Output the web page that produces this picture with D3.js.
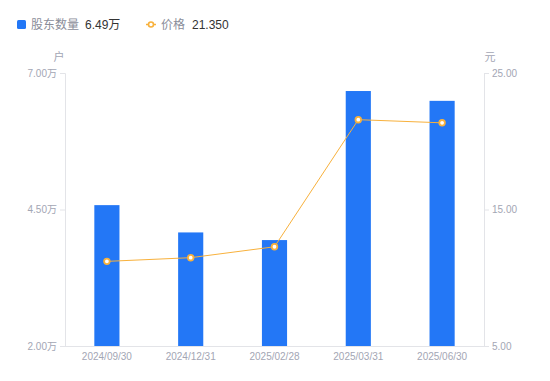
<!DOCTYPE html>
<html><head><meta charset="utf-8">
<script src="https://cdn.jsdelivr.net/npm/d3@7"></script>
<style>body{margin:0;background:#fff}svg{display:block;font-family:"Liberation Sans",Arial,"Noto Sans CJK SC",sans-serif}</style>
</head><body>
<script>
const categories = ["2024/09/30","2024/12/31","2025/02/28","2025/03/31","2025/06/30"];
const holders = [4.58, 4.08, 3.94, 6.67, 6.49]; // 万户
const prices = [11.2, 11.47, 12.27, 21.58, 21.35];
const leftTicks = [2.00, 4.50, 7.00];
const rightTicks = [5.00, 15.00, 25.00];

const W = 550, H = 381;
const m = {l:65, r:66, t:73, b:35};
const svg = d3.select("body").append("svg").attr("width", W).attr("height", H);

const x = d3.scaleBand().domain(categories).range([m.l, W - m.r]).paddingInner(0.7).paddingOuter(0.35);
const yL = d3.scaleLinear().domain([2, 7]).range([H - m.b, m.t]);
const yR = d3.scaleLinear().domain([5, 25]).range([H - m.b, m.t]);

const axisColor = "#e3e4e8", labelColor = "#a3a6b4";

// bars
svg.append("g").selectAll("rect").data(holders).join("rect")
  .attr("x", (d,i) => x(categories[i]))
  .attr("width", x.bandwidth())
  .attr("y", d => yL(d))
  .attr("height", d => yL(2) - yL(d))
  .attr("fill", "#2377f6");

// axes
const gL = svg.append("g").attr("transform", `translate(${m.l},0)`)
  .call(d3.axisLeft(yL).tickValues(leftTicks).tickSize(5).tickPadding(3).tickFormat(d => d3.format(".2f")(d) + "万"));
const gR = svg.append("g").attr("transform", `translate(${W - m.r},0)`)
  .call(d3.axisRight(yR).tickValues(rightTicks).tickSize(5).tickPadding(3).tickFormat(d3.format(".2f")));
const gB = svg.append("g").attr("transform", `translate(0,${H - m.b})`)
  .call(d3.axisBottom(x).tickSize(0).tickPadding(7));
[gL, gR, gB].forEach(g => {
  g.selectAll("path,line").attr("stroke", axisColor);
  g.selectAll("text").attr("fill", labelColor).attr("font-size", 10)
    .attr("font-family", '"Liberation Sans",Arial,"Noto Sans CJK SC",sans-serif');
});
gB.select(".domain").attr("d", `M${m.l},0.5H${W - m.r}`);

// unit labels
svg.append("text").attr("x", m.l - 6).attr("y", 61).attr("text-anchor", "middle")
  .attr("fill", labelColor).attr("font-size", 11).text("户");
svg.append("text").attr("x", W - m.r + 6).attr("y", 61).attr("text-anchor", "middle")
  .attr("fill", labelColor).attr("font-size", 11).text("元");

// price line
const cx = (i) => x(categories[i]) + x.bandwidth() / 2;
svg.append("path").datum(prices)
  .attr("d", d3.line().x((d,i) => cx(i)).y(d => yR(d)))
  .attr("fill", "none").attr("stroke", "#f8b13c").attr("stroke-width", 1);
svg.append("g").selectAll("circle").data(prices).join("circle")
  .attr("cx", (d,i) => cx(i)).attr("cy", d => yR(d)).attr("r", 2.8)
  .attr("fill", "#fff").attr("stroke", "#f8b13c").attr("stroke-width", 1.8);

// legend
const lg = svg.append("g").attr("font-size", 12);
lg.append("rect").attr("x", 17).attr("y", 20).attr("width", 9).attr("height", 9).attr("rx", 1.5).attr("fill", "#2377f6");
lg.append("text").attr("x", 31).attr("y", 29).attr("fill", "#8a8d99").text("股东数量");
lg.append("text").attr("x", 85).attr("y", 29).attr("fill", "#333").text(d3.format(".2f")(holders[4]) + "万");
lg.append("line").attr("x1", 146).attr("x2", 156).attr("y1", 24.5).attr("y2", 24.5).attr("stroke", "#f8b13c").attr("stroke-width", 1.5);
lg.append("circle").attr("cx", 151).attr("cy", 24.5).attr("r", 2.5).attr("fill", "#fff").attr("stroke", "#f8b13c").attr("stroke-width", 1.6);
lg.append("text").attr("x", 161).attr("y", 29).attr("fill", "#8a8d99").text("价格");
lg.append("text").attr("x", 192).attr("y", 29).attr("fill", "#333").text(d3.format(".3f")(prices[4]));
</script>
</body></html>
